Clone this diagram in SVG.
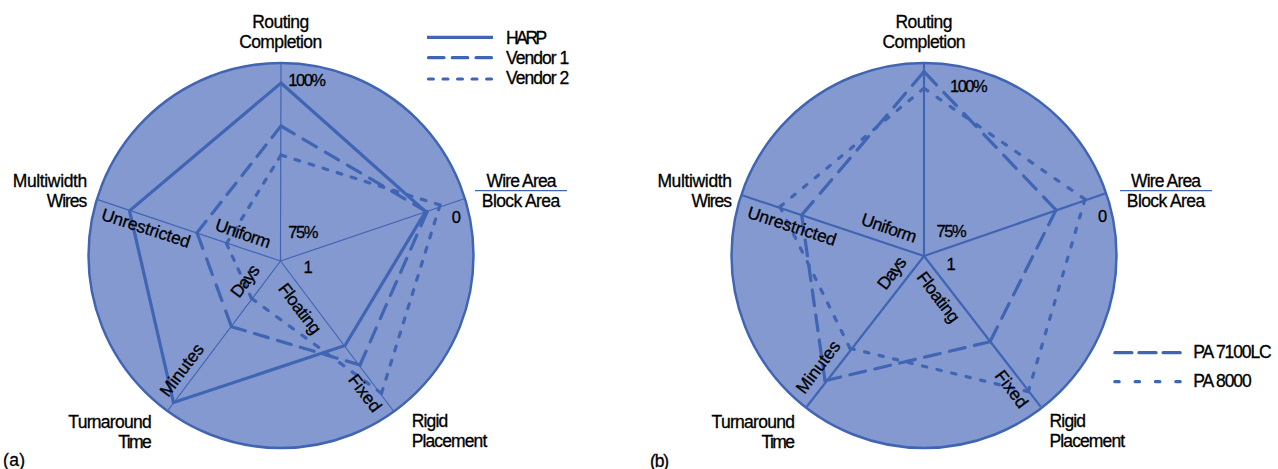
<svg xmlns="http://www.w3.org/2000/svg" width="1278" height="469" viewBox="0 0 1278 469">
<style>
  .disk{fill:#8499CF;stroke:#4065B4;stroke-width:2.5}
  .spa{stroke:#4065B4;stroke-width:1.2;fill:none}
  .spb{stroke:#4065B4;stroke-width:2.2;fill:none}
  .frac{stroke:#4065B4;stroke-width:1.2}
  .solid{fill:none;stroke:#4065B4;stroke-width:3.2;stroke-linejoin:miter}
  .dl{fill:none;stroke:#4065B4;stroke-width:3.2;stroke-linecap:round}
  .v1{stroke-dasharray:15 10}
  .v2{stroke-dasharray:5 10}
  .p7{stroke-dasharray:17 10}
  .p8{stroke-dasharray:4.5 11}
  text{font-family:"Liberation Sans Narrow","Liberation Sans",Arial,sans-serif;font-size:17.5px;fill:#000;stroke:#000;stroke-width:0.3}
  .val{font-size:16.5px}
  .rot{text-anchor:middle;dominant-baseline:central}
  .mid{text-anchor:middle}
  .end{text-anchor:end}
</style>

<!-- Chart (a) -->
<g id="chart-a">
  <circle id="a-disk" class="disk" cx="281" cy="255.5" r="192.5"/>
  <g id="a-spokes" class="spa">
    <line x1="280.5" y1="261" x2="281" y2="63"/>
    <line x1="280.5" y1="261" x2="465" y2="198.5"/>
    <line x1="280.5" y1="261" x2="393.5" y2="411"/>
    <line x1="280.5" y1="261" x2="167.5" y2="411"/>
    <line x1="280.5" y1="261" x2="96.9" y2="199.4"/>
  </g>
  <g id="a-harp">
    <polygon class="solid" points="281,83 425.5,211.5 345,345.5 173.5,402.5 129.5,210.8"/>
  </g>
  <g id="a-vendor1" class="dl v1">
    <line x1="281" y1="126" x2="427" y2="212" pathLength="165"/>
    <line x1="427" y1="212" x2="360" y2="365" pathLength="165"/>
    <line x1="360" y1="365" x2="231.5" y2="326.7" pathLength="140"/>
    <line x1="231.5" y1="326.7" x2="197" y2="232.7" pathLength="90"/>
    <line x1="197" y1="232.7" x2="281" y2="126" pathLength="140"/>
  </g>
  <g id="a-vendor2" class="dl v2">
    <line x1="281" y1="155" x2="440" y2="205" pathLength="170"/>
    <line x1="440" y1="205" x2="381.5" y2="393.3" pathLength="200"/>
    <line x1="381.5" y1="393.3" x2="251.5" y2="298.3" pathLength="155"/>
    <line x1="251.5" y1="298.3" x2="226.5" y2="243.5" pathLength="65"/>
    <line x1="226.5" y1="243.5" x2="281" y2="155" pathLength="110"/>
  </g>
  <g id="a-axis-labels">
    <text class="mid" x="280.7" y="27.5" textLength="57">Routing</text>
    <text class="mid" x="280.7" y="47.7" textLength="83">Completion</text>
    <text class="end" x="87.3" y="186.7" textLength="74.6">Multiwidth</text>
    <text class="end" x="87.3" y="206.7" textLength="40.6">Wires</text>
    <text class="mid" x="521.5" y="186.7" textLength="70">Wire Area</text>
    <line class="frac" x1="475" y1="190.7" x2="567" y2="190.7"/>
    <text class="mid" x="521" y="206.7" textLength="78.3">Block Area</text>
    <text class="end" x="151.7" y="428.3" textLength="83.4">Turnaround</text>
    <text class="end" x="151.7" y="448.3" textLength="33.4">Time</text>
    <text x="411.7" y="427.3" textLength="36.6">Rigid</text>
    <text x="411.7" y="447.3" textLength="75.6">Placement</text>
  </g>
  <g id="a-scale-labels">
    <text class="val" x="288.3" y="86" textLength="37.7">100%</text>
    <text class="val" x="288.3" y="237.7" textLength="30">75%</text>
    <text class="val" x="451.7" y="223.3">0</text>
    <text class="val" x="303.5" y="272.7">1</text>
    <text class="rot" transform="translate(243,233.5) rotate(19)" textLength="57.4">Uniform</text>
    <text class="rot" transform="translate(146,228) rotate(18)" textLength="92.5">Unrestricted</text>
    <text class="rot" transform="translate(245,281) rotate(-53)" textLength="36">Days</text>
    <text class="rot" transform="translate(300,308.5) rotate(53)" textLength="58.5">Floating</text>
    <text class="rot" transform="translate(181.7,370) rotate(-53)" textLength="61">Minutes</text>
    <text class="rot" transform="translate(365,393) rotate(53)" textLength="42.5">Fixed</text>
  </g>
  <g id="a-legend">
    <line class="solid" x1="427" y1="37.3" x2="493" y2="37.3"/>
    <line class="dl" x1="428.5" y1="57.7" x2="491.5" y2="57.7" pathLength="61" stroke-dasharray="15 8"/>
    <line class="dl" x1="428.5" y1="79" x2="491.5" y2="79" pathLength="65" stroke-dasharray="5 10"/>
    <text x="506" y="44" textLength="41.3">HARP</text>
    <text x="506" y="64.3" textLength="63.3">Vendor 1</text>
    <text x="506" y="84.3" textLength="63.3">Vendor 2</text>
  </g>
  <text id="a-caption" x="3" y="466" textLength="22">(a)</text>
</g>

<!-- Chart (b) -->
<g id="chart-b">
  <circle id="b-disk" class="disk" cx="924" cy="255.5" r="192.5"/>
  <g id="b-spokes" class="spb">
    <line x1="924" y1="256" x2="924" y2="63"/>
    <line x1="924" y1="256" x2="1105.8" y2="193.3"/>
    <line x1="924" y1="256" x2="1040.7" y2="406.7"/>
    <line x1="924" y1="256" x2="806.7" y2="406.7"/>
    <line x1="924" y1="256" x2="741.4" y2="195"/>
  </g>
  <g id="b-pa7100lc" class="dl p7">
    <line x1="924" y1="71.7" x2="1056" y2="210" pathLength="179"/>
    <line x1="1056" y1="210" x2="990" y2="341.7" pathLength="152"/>
    <line x1="990" y1="341.7" x2="825" y2="380.7" pathLength="179"/>
    <line x1="825" y1="380.7" x2="801.7" y2="215" pathLength="179"/>
    <line x1="801.7" y1="215" x2="924" y2="71.7" pathLength="179"/>
  </g>
  <g id="b-pa8000" class="dl p8">
    <line x1="924" y1="88.3" x2="1085" y2="199.3" pathLength="190.5"/>
    <line x1="1085" y1="199.3" x2="1028.3" y2="391.7" pathLength="206"/>
    <line x1="1028.3" y1="391.7" x2="850" y2="348.3" pathLength="190.5"/>
    <line x1="850" y1="348.3" x2="780" y2="206.7" pathLength="159.5"/>
    <line x1="780" y1="206.7" x2="924" y2="88.3" pathLength="190.5"/>
  </g>
  <g id="b-axis-labels">
    <text class="mid" x="924" y="27.5" textLength="57">Routing</text>
    <text class="mid" x="924" y="47.7" textLength="83">Completion</text>
    <text class="end" x="732" y="186.7" textLength="74.6">Multiwidth</text>
    <text class="end" x="732" y="206.7" textLength="40.6">Wires</text>
    <text class="mid" x="1166" y="186.7" textLength="70">Wire Area</text>
    <line class="frac" x1="1120" y1="190.7" x2="1212" y2="190.7"/>
    <text class="mid" x="1166" y="206.7" textLength="78.3">Block Area</text>
    <text class="end" x="795" y="428.3" textLength="83.4">Turnaround</text>
    <text class="end" x="795" y="448.3" textLength="33.4">Time</text>
    <text x="1049.5" y="427.3" textLength="36.6">Rigid</text>
    <text x="1049.5" y="447.3" textLength="75.6">Placement</text>
  </g>
  <g id="b-scale-labels">
    <text class="val" x="950" y="91.7" textLength="37.7">100%</text>
    <text class="val" x="936.6" y="236.7" textLength="30">75%</text>
    <text class="val" x="1098" y="221.7">0</text>
    <text class="val" x="946.5" y="270">1</text>
    <text class="rot" transform="translate(889,228) rotate(19)" textLength="57.4">Uniform</text>
    <text class="rot" transform="translate(792,226) rotate(18)" textLength="92.5">Unrestricted</text>
    <text class="rot" transform="translate(891.7,273) rotate(-53)" textLength="36">Days</text>
    <text class="rot" transform="translate(938.5,297) rotate(53)" textLength="58.5">Floating</text>
    <text class="rot" transform="translate(818,367) rotate(-53)" textLength="61">Minutes</text>
    <text class="rot" transform="translate(1011.7,389) rotate(53)" textLength="42.5">Fixed</text>
  </g>
  <g id="b-legend">
    <line class="dl" x1="1114.8" y1="352.7" x2="1180.2" y2="352.7" pathLength="65" stroke-dasharray="17 7"/>
    <line class="dl" x1="1114.8" y1="381.7" x2="1180.2" y2="381.7" pathLength="64.3" stroke-dasharray="4.3 15.7"/>
    <text x="1193.3" y="358.3" textLength="78.4">PA 7100LC</text>
    <text x="1193.3" y="387.3" textLength="58.4">PA 8000</text>
  </g>
  <text id="b-caption" x="650" y="466.5" textLength="19">(b)</text>
</g>
</svg>
